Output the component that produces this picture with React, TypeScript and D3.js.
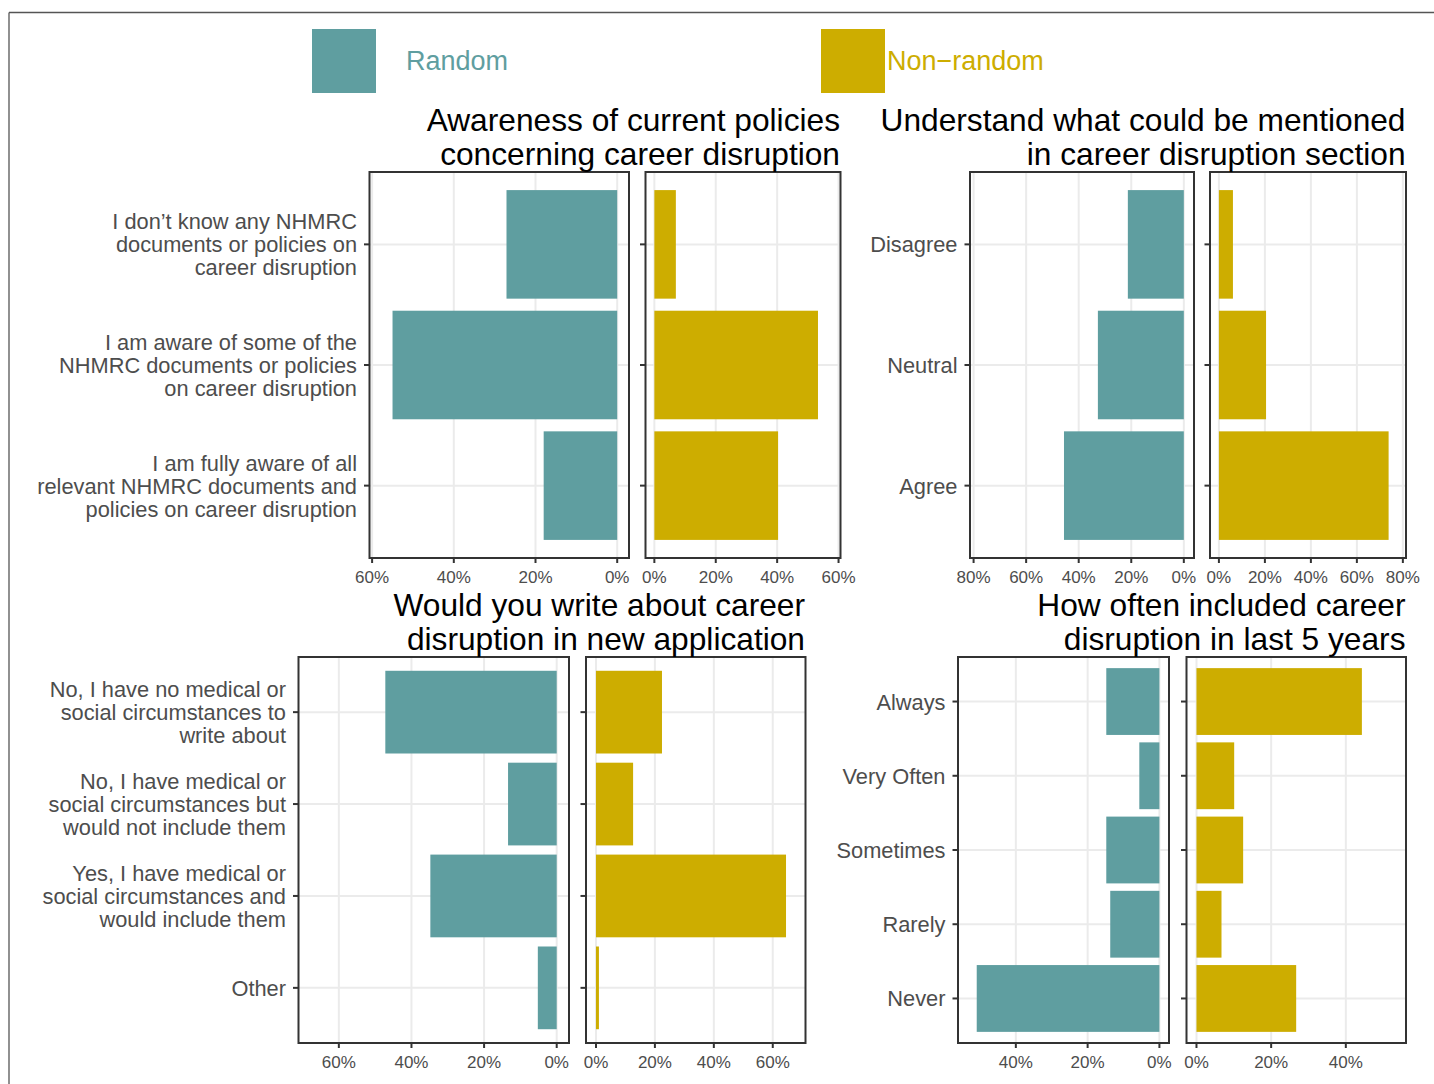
import React from "react";
import * as d3 from "d3";

// ---------- data ----------
const groupNames = ["Random", "Non\u2212random"];
const groupColors = ["#5F9EA0", "#CDAD00"];

const p1Title = ["Awareness of current policies", "concerning career disruption"];
const p1Categories = [
  "I don\u2019t know any NHMRC\ndocuments or policies on\ncareer disruption",
  "I am aware of some of the\nNHMRC documents or policies\non career disruption",
  "I am fully aware of all\nrelevant NHMRC documents and\npolicies on career disruption",
];
const p1Random = [27.1, 55.0, 18.0];
const p1NonRandom = [7.0, 53.3, 40.3];
const p1TicksRandom = [0, 20, 40, 60];
const p1TicksNonRandom = [0, 20, 40, 60];

const p2Title = ["Understand what could be mentioned", "in career disruption section"];
const p2Categories = ["Disagree", "Neutral", "Agree"];
const p2Random = [21.3, 32.7, 45.6];
const p2NonRandom = [6.1, 20.5, 73.8];
const p2TicksRandom = [0, 20, 40, 60, 80];
const p2TicksNonRandom = [0, 20, 40, 60, 80];

const p3Title = ["Would you write about career", "disruption in new application"];
const p3Categories = [
  "No, I have no medical or\nsocial circumstances to\nwrite about",
  "No, I have medical or\nsocial circumstances but\nwould not include them",
  "Yes, I have medical or\nsocial circumstances and\nwould include them",
  "Other",
];
const p3Random = [47.2, 13.4, 34.8, 5.2];
const p3NonRandom = [22.4, 12.6, 64.5, 1.0];
const p3TicksRandom = [0, 20, 40, 60];
const p3TicksNonRandom = [0, 20, 40, 60];

const p4Title = ["How often included career", "disruption in last 5 years"];
const p4Categories = ["Always", "Very Often", "Sometimes", "Rarely", "Never"];
const p4Random = [14.8, 5.6, 14.8, 13.7, 50.9];
const p4NonRandom = [44.3, 10.1, 12.5, 6.7, 26.7];
const p4TicksRandom = [0, 20, 40];
const p4TicksNonRandom = [0, 20, 40];

// ---------- layout ----------
const FONT = "'Liberation Sans', Arial, Helvetica, sans-serif";
const layouts = [
  { rx: [369.5, 629], nx: [645.5, 840.5], y: [172, 558] },
  { rx: [970, 1194], nx: [1210, 1406], y: [172, 558] },
  { rx: [298.5, 569], nx: [586, 805.5], y: [657, 1043] },
  { rx: [958, 1169], nx: [1186.5, 1406], y: [657, 1043] },
];

const panels = [
  { title: p1Title, cats: p1Categories, rnd: p1Random, non: p1NonRandom, tR: p1TicksRandom, tN: p1TicksNonRandom },
  { title: p2Title, cats: p2Categories, rnd: p2Random, non: p2NonRandom, tR: p2TicksRandom, tN: p2TicksNonRandom },
  { title: p3Title, cats: p3Categories, rnd: p3Random, non: p3NonRandom, tR: p3TicksRandom, tN: p3TicksNonRandom },
  { title: p4Title, cats: p4Categories, rnd: p4Random, non: p4NonRandom, tR: p4TicksRandom, tN: p4TicksNonRandom },
];

const GRID = "#ebebeb";
const BORDER = "#333333";
const AXIS_TEXT = "#4d4d4d";

function Panel({ p, L }: any) {
  const max = d3.max([...p.rnd, ...p.non]) as number;
  const lim = max * 1.05;
  const xR = d3.scaleLinear().domain([1.05 * lim, -0.05 * lim]).range(L.rx);
  const xN = d3.scaleLinear().domain([-0.05 * lim, 1.05 * lim]).range(L.nx);
  const yB = d3
    .scaleBand<string>()
    .domain(p.cats)
    .range(L.y)
    .paddingInner(0.1)
    .paddingOuter(0.15);
  const [top, bottom] = L.y;

  const sub = (x: any, vals: number[], ticks: number[], color: string, x0: number, x1: number, isRandom: boolean) => (
    <g>
      {ticks.map((t) => (
        <line key={"gv" + t} x1={x(t)} x2={x(t)} y1={top} y2={bottom} stroke={GRID} strokeWidth={2} />
      ))}
      {p.cats.map((c: string) => (
        <line
          key={"gh" + c}
          x1={x0}
          x2={x1}
          y1={(yB(c) as number) + yB.bandwidth() / 2}
          y2={(yB(c) as number) + yB.bandwidth() / 2}
          stroke={GRID}
          strokeWidth={2}
        />
      ))}
      {p.cats.map((c: string, i: number) => {
        const a = x(0);
        const b = x(vals[i]);
        return (
          <rect
            key={"b" + c}
            x={Math.min(a, b)}
            width={Math.abs(b - a)}
            y={yB(c) as number}
            height={yB.bandwidth()}
            fill={color}
          />
        );
      })}
      <rect x={x0} y={top} width={x1 - x0} height={bottom - top} fill="none" stroke={BORDER} strokeWidth={2} />
      {ticks.map((t) => (
        <g key={"xt" + t}>
          <line x1={x(t)} x2={x(t)} y1={bottom} y2={bottom + 5} stroke={BORDER} strokeWidth={2} />
          <text x={x(t)} y={bottom + 25} textAnchor="middle" fontSize={17} fill={AXIS_TEXT} fontFamily={FONT}>
            {t + "%"}
          </text>
        </g>
      ))}
      {p.cats.map((c: string) => {
        const cy = (yB(c) as number) + yB.bandwidth() / 2;
        return <line key={"yt" + c} x1={x0 - 5.5} x2={x0} y1={cy} y2={cy} stroke={BORDER} strokeWidth={2} />;
      })}
      {isRandom &&
        p.cats.map((c: string) => {
          const cy = (yB(c) as number) + yB.bandwidth() / 2;
          const lines = c.split("\n");
          const n = lines.length;
          return (
            <text key={"yl" + c} textAnchor="end" fontSize={21.8} fill={AXIS_TEXT} fontFamily={FONT}>
              {lines.map((ln, k) => (
                <tspan key={k} x={x0 - 12.5} y={cy + 8 + (k - (n - 1) / 2) * 23}>
                  {ln}
                </tspan>
              ))}
            </text>
          );
        })}
    </g>
  );

  return (
    <g>
      {sub(xR, p.rnd, p.tR, groupColors[0], L.rx[0], L.rx[1], true)}
      {sub(xN, p.non, p.tN, groupColors[1], L.nx[0], L.nx[1], false)}
      <text textAnchor="end" fontSize={31.7} fill="#000" fontFamily={FONT}>
        <tspan x={L.nx[1] - 0.5} y={top - 41}>
          {p.title[0]}
        </tspan>
        <tspan x={L.nx[1] - 0.5} y={top - 7}>
          {p.title[1]}
        </tspan>
      </text>
    </g>
  );
}

export default function App() {
  const legendX = [312, 821];
  const legendTextX = [406, 887];
  return (
    <div style={{ position: "absolute", left: 0, top: 0 }}>
      <svg width={1434} height={1084} style={{ display: "block", background: "#fff" }}>
        <line x1={9} x2={1434} y1={12.5} y2={12.5} stroke="#555" strokeWidth={1.3} />
        <line x1={9} x2={9} y1={12.5} y2={1084} stroke="#555" strokeWidth={1.3} />
        {groupNames.map((g, i) => (
          <g key={g}>
            <rect x={legendX[i]} y={29} width={64} height={64} fill={groupColors[i]} />
            <text x={legendTextX[i]} y={70} fontSize={27} fill={groupColors[i]} fontFamily={FONT}>
              {g}
            </text>
          </g>
        ))}
        {panels.map((p, i) => (
          <Panel key={i} p={p} L={layouts[i]} />
        ))}
      </svg>
    </div>
  );
}
